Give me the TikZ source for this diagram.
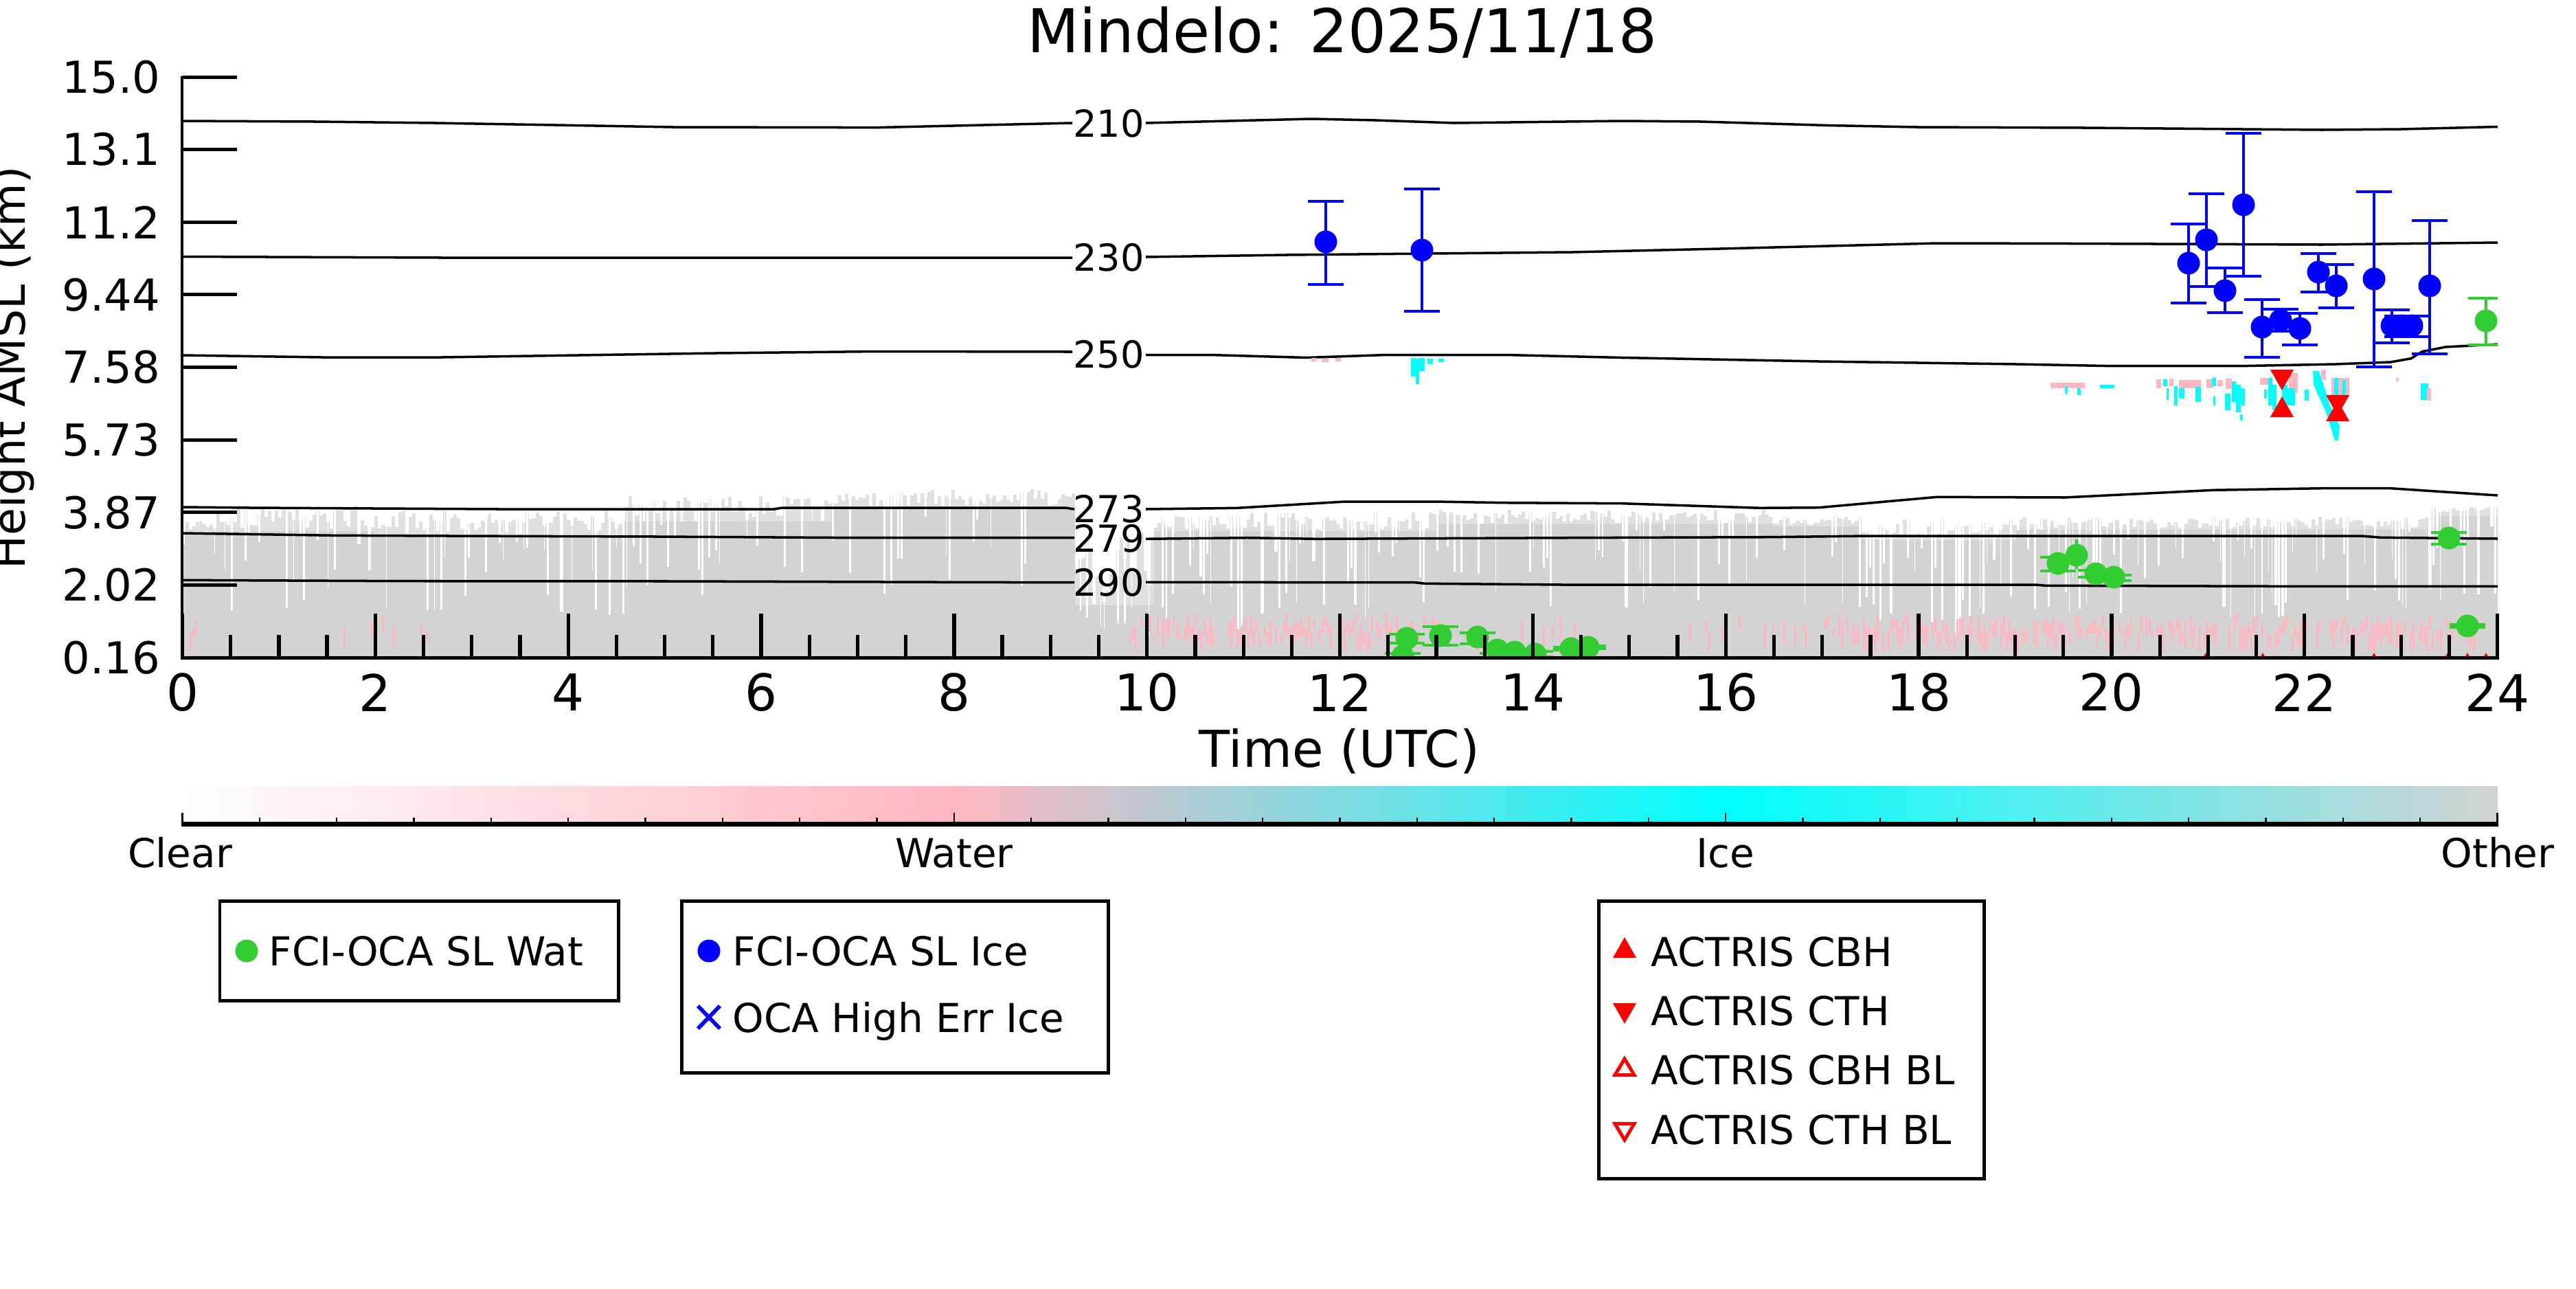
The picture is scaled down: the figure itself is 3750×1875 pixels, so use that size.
\documentclass[tikz,border=0pt]{standalone}
\usepackage{fontspec}
\setmainfont{DejaVu Sans}
\definecolor{cgray}{HTML}{D3D3D3}
\definecolor{cpink}{HTML}{FFB6C1}
\definecolor{ccyan}{HTML}{00FFFF}
\definecolor{cgreen}{HTML}{32CD32}
\definecolor{cblue}{HTML}{0000FF}
\definecolor{cred}{HTML}{FF0000}
\colorlet{cfringe}{cgray!70!white}
\tikzset{
 axisln/.style={line width=1.42pt},
 ytk/.style={line width=1.42pt},
 xtk/.style={line width=1.5pt},
 cbtk/.style={line width=0.7pt},
 cont/.style={line width=1pt, line join=round},
 ebar/.style={line width=1pt},
 ecap/.style={line width=1.05pt},
 legbox/.style={line width=1.42pt},
 clab/.style={font=\fontsize{15.4pt}{16pt}\selectfont, inner sep=0pt},
 ylab/.style={font=\fontsize{18.2pt}{20pt}\selectfont, inner sep=0pt},
 xlab/.style={font=\fontsize{21pt}{23pt}\selectfont, inner sep=0pt},
 legtxt/.style={font=\fontsize{16.5pt}{18pt}\selectfont, inner sep=0pt, anchor=base west},
}
\newcommand\cloudseg[6]{%
  \fill[cgray] (#1,#4) rectangle (#2,957);
  \pgfmathtruncatemacro\ncols{(#2-#1)/5-1}%
  \foreach \i in {0,...,\ncols}{%
    \pgfmathsetmacro\xx{#1+5*\i}%
    \pgfmathsetmacro\ra{rnd}%
    \pgfmathsetmacro\rb{rnd}%
    \pgfmathsetmacro\rc{rnd}%
    \pgfmathsetmacro\rd{rnd}%
    \pgfmathsetmacro\ytop{#3+(#4-#3)*\ra}%
    \fill[cfringe] (\xx,\ytop) rectangle (\xx+5,#4+1);
    \ifdim\rb pt<#5pt
      \pgfmathsetmacro\ybot{#4+(#6-#4)*\rc}%
      \pgfmathsetmacro\ww{1.2+3*\rd}%
      \fill[white] (\xx+2.5-\ww/2,#3-15) rectangle (\xx+2.5+\ww/2,\ybot);
    \fi
  }%
}
\newcommand\pinkseg[3]{%
  \pgfmathtruncatemacro\npk{(#2-#1)/4}%
  \foreach \i in {0,...,\npk}{%
    \pgfmathsetmacro\ra{rnd}%
    \pgfmathsetmacro\rb{rnd}%
    \pgfmathsetmacro\rc{rnd}%
    \ifdim\ra pt<#3pt
      \pgfmathsetmacro\xx{#1+4*\i}%
      \pgfmathsetmacro\yt{893+30*\rb}%
      \pgfmathsetmacro\yb{min(\yt+12+30*\rc,948)}%
      \fill[cpink] (\xx,\yt) rectangle (\xx+3.2,\yb);
    \fi
  }%
}
\newcommand\ice[4]{\fill[ccyan] (#1,#3) rectangle (#2,#4);}
\newcommand\pk[4]{\fill[cpink] (#1,#3) rectangle (#2,#4);}
\newcommand\triU[3]{\fill[#3] (#1-17,#2+15) -- (#1+17,#2+15) -- (#1,#2-15) -- cycle;}
\newcommand\triD[3]{\fill[#3] (#1-17,#2-15) -- (#1+17,#2-15) -- (#1,#2+15) -- cycle;}
\begin{document}
\begin{tikzpicture}[x=0.01cm,y=-0.01cm]
\useasboundingbox (0,0) rectangle (3750,1875);
\pgfmathsetseed{7}
\begin{scope}
\clip (265,100) rectangle (3636,957);
% cloud mask
\cloudseg{265}{310}{758}{777}{0.15}{880}
\cloudseg{310}{545}{735}{772}{0.3}{900}
\cloudseg{545}{910}{742}{778}{0.35}{900}
\cloudseg{910}{1210}{720}{758}{0.25}{880}
\cloudseg{1210}{1565}{712}{738}{0.2}{870}
\cloudseg{1565}{1680}{770}{880}{0.55}{930}
\cloudseg{1680}{1810}{750}{772}{0.6}{925}
\cloudseg{1810}{2090}{745}{772}{0.45}{900}
\cloudseg{2090}{2580}{742}{762}{0.35}{890}
\cloudseg{2580}{2710}{748}{765}{0.3}{890}
\cloudseg{2710}{2935}{755}{785}{0.65}{940}
\cloudseg{2935}{3540}{752}{770}{0.45}{900}
\cloudseg{3540}{3640}{738}{750}{0.3}{880}
% water near ground
\pinkseg{268}{300}{0.2}
\pinkseg{500}{620}{0.25}
\pinkseg{1640}{2110}{0.65}
\pinkseg{2110}{2560}{0.1}
\pinkseg{2560}{2700}{0.2}
\pinkseg{2700}{3600}{0.7}
% isotherm contours
\draw[cont] (265,176) -- (459,177) -- (633,179) -- (867,183) -- (980,185) -- (1276,185.6) -- (1561,179);
\draw[cont] (1668,179) -- (1909,173) -- (2002,175) -- (2117,179) -- (2361,176) -- (2476,177) -- (2662,182.5) -- (2791,185) -- (3035,186) -- (3150,187) -- (3380,189) -- (3495,188) -- (3636,184.5);
\draw[cont] (265,373.5) -- (643,375) -- (1561,375);
\draw[cont] (1668,374) -- (1873,371) -- (2289,367) -- (2504,362) -- (2820,354) -- (2992,354.4) -- (3380,356) -- (3636,353);
\draw[cont] (265,517) -- (469,520) -- (643,520) -- (1041,514) -- (1276,511.5) -- (1561,512);
\draw[cont] (1668,516.6) -- (1765,516.6) -- (1902,520.5) -- (2015,516.6) -- (2197,516.6) -- (2361,520.5) -- (2648,526) -- (2935,530) -- (3075,532.7) -- (3261,532.7) -- (3400,530) -- (3480,527) -- (3510,521.7) -- (3526,511.7) -- (3560,505) -- (3636,501);
\draw[cont] (265,738) -- (364,739) -- (545,740) -- (727,741) -- (1127,741) -- (1139,739) -- (1551,739) -- (1564,741);
\draw[cont] (1668,741) -- (1801,739.3) -- (1959,730) -- (2088,730) -- (2189,731.7) -- (2361,732.7) -- (2562,739.3) -- (2648,738.7) -- (2820,723.3) -- (3006,724) -- (3222,713.3) -- (3380,710.7) -- (3480,710.7) -- (3636,721);
\draw[cont] (265,776) -- (485,779.3) -- (655,780) -- (958,781) -- (1248,782.7) -- (1564,782.7);
\draw[cont] (1668,784.3) -- (1816,782.7) -- (1916,784.3) -- (2289,782.7) -- (2576,781.7) -- (2719,780) -- (3437,780) -- (3466,782.3) -- (3636,784);
\draw[cont] (265,844.3) -- (582,845.7) -- (982,846) -- (1382,847.3) -- (1564,847.7);
\draw[cont] (1668,847.3) -- (2060,847.7) -- (2074,849.3) -- (2275,851) -- (2963,851) -- (2978,852.3) -- (3322,853.3) -- (3636,853.3);
% ice / water pixels aloft
\pk{1909}{1917}{521}{526} \pk{1924}{1934}{522}{527} \pk{1944}{1952}{521}{526}
\ice{2054}{2061}{521}{548} \ice{2061}{2066}{522}{559} \ice{2066}{2074}{521}{540} \ice{2078}{2086}{522}{530} \ice{2094}{2102}{522}{527}
\pk{2985}{3035}{557}{565}
\ice{3006}{3010}{562}{573} \ice{3024}{3029}{565}{575}
\ice{3057}{3078}{560}{565}
\pk{3139}{3146}{552}{565} \pk{3158}{3164}{551}{562} \pk{3172}{3204}{553}{565}
\ice{3149}{3155}{552}{562} \ice{3154}{3157}{565}{582} \ice{3165}{3170}{562}{590} \ice{3172}{3180}{565}{580} \ice{3196}{3204}{563}{585}
\pk{3212}{3222}{552}{565} \pk{3228}{3236}{553}{562} \pk{3240}{3249}{551}{566}
\ice{3220}{3226}{550}{562} \ice{3222}{3225}{577}{590} \ice{3239}{3247}{573}{597} \ice{3249}{3255}{555}{585} \ice{3255}{3262}{560}{600} \ice{3262}{3268}{565}{590} \ice{3261}{3265}{603}{612}
\pk{3290}{3302}{550}{560} \pk{3332}{3345}{543}{572}
\ice{3302}{3308}{550}{590} \ice{3308}{3314}{560}{597} \ice{3296}{3300}{567}{580} \ice{3322}{3330}{560}{597} \ice{3330}{3341}{565}{590}
\fill[ccyan] (3367,540) -- (3376,540) -- (3392,590) -- (3406,620) -- (3404,641) -- (3399,641) -- (3386,600) -- (3368,560) -- cycle;
\ice{3355}{3361}{567}{583}
\pk{3394}{3420}{550}{577} \ice{3398}{3404}{550}{580} \ice{3410}{3415}{553}{575}
\pk{3379}{3386}{538}{553}
\pk{3488}{3492}{550}{555}
\ice{3524}{3535}{558}{582} \pk{3533}{3539}{565}{583}
% ACTRIS cloud base / top
\triD{3322}{553}{cred} \triU{3322}{592}{cred}
\triD{3403}{590}{cred} \triU{3403}{598}{cred}
\foreach \tx in {3211,3294,3456,3563,3592,3619} {\triU{\tx}{965}{cred}}
% FCI-OCA ice
\foreach \px/\py/\ptop/\pbot in {1930/352/293/414, 2070/364/275/453, 3186/383/326/441, 3212/349/282/417, 3239/423/390/455, 3266/298/194/402, 3293/476/436/520, 3320/466/450/482, 3348/478/456/502, 3375/396/369/425, 3401/416/385/448, 3456/406/279/534, 3482/474/451/499, 3497/474/460/490, 3511/474/460/490, 3537/416/321/515}
 {\draw[ebar,cblue] (\px,\ptop) -- (\px,\pbot);
  \draw[ecap,cblue] (\px-26,\ptop) -- (\px+26,\ptop) (\px-26,\pbot) -- (\px+26,\pbot);}
\foreach \px/\py/\ptop/\pbot in {1930/352/293/414, 2070/364/275/453, 3186/383/326/441, 3212/349/282/417, 3239/423/390/455, 3266/298/194/402, 3293/476/436/520, 3320/466/450/482, 3348/478/456/502, 3375/396/369/425, 3401/416/385/448, 3456/406/279/534, 3482/474/451/499, 3497/474/460/490, 3511/474/460/490, 3537/416/321/515}
 {\fill[cblue] (\px,\py) circle[radius=16.5];}
% FCI-OCA water
\draw[ebar,cgreen] (3023,785) -- (3023,828);
\foreach \px/\py/\ptop/\pbot in {2042/955/951/959, 2048/929/923/936, 2097/925/912/939, 2151/927/921/937, 2180/946/941/951, 2205/949/945/953, 2235/952/948/956, 2287/944/942/946, 2312/942/940/944, 2996/820/811/831, 3051/835/830/840, 3077/840/837/845, 3565/783/775/792, 3592/911/909/913, 3619/467/434/502}
 {\draw[ebar,cgreen] (\px,\ptop) -- (\px,\pbot);
  \draw[ecap,cgreen] (\px-26,\ptop) -- (\px+26,\ptop) (\px-26,\pbot) -- (\px+26,\pbot);}
\foreach \px/\py in {2042/955, 2048/929, 2097/925, 2151/927, 2180/946, 2205/949, 2235/952, 2287/944, 2312/942, 2996/820, 3023/808, 3051/835, 3077/840, 3565/783, 3592/911, 3619/467}
 {\fill[cgreen] (\px,\py) circle[radius=16.5];}
\end{scope}
% contour labels
\node[clab] (c210) at (1614,180) {210};
\node[clab] (c230) at (1614,375) {230};
\node[clab] (c250) at (1614,516) {250};
\node[clab] (c273) at (1614,741) {273};
\node[clab] (c279) at (1614,784) {279};
\node[clab] (c290) at (1614,848) {290};
% axes
\draw[axisln] (265,111) -- (265,959);
\draw[axisln] (263,957) -- (3638,957);
\foreach \lab [count=\k from 0] in {0.16,2.02,3.87,5.73,7.58,9.44,11.2,13.1,15.0} {
  \pgfmathsetmacro\yy{957-105.625*\k}
  \draw[ytk] (265,\yy) -- (345,\yy);
  \node[ylab, anchor=east] (yl\k) at (234,\yy) {\lab};
}
\foreach \k in {1,...,47} {
  \pgfmathsetmacro\xx{265.5+70.21*\k}
  \draw[xtk] (\xx,957) -- (\xx,924);
}
\foreach \t in {0,2,...,24} {
  \pgfmathsetmacro\xx{265.5+140.42*\t}
  \draw[xtk] (\xx,957) -- (\xx,893);
  \node[xlab] (xl\t) at (\xx,1008) {\t};
}
\node[font=\fontsize{25pt}{28pt}\selectfont, anchor=base, inner sep=0pt] (title) at (1954,76) {Mindelo: 2025/11/18};
\node[xlab, anchor=base] (xlabel) at (1950,1116) {Time (UTC)};
\node[font=\fontsize{18.5pt}{20pt}\selectfont, rotate=90, anchor=base, inner sep=0pt] (ylabel) at (36,535) {Height AMSL (km)};
% colour bar
\shade[left color=white, right color=cpink] (265,1144) rectangle (1390.5,1197);
\shade[left color=cpink, right color=ccyan] (1390,1144) rectangle (2512,1197);
\shade[left color=ccyan, right color=cgray] (2511.5,1144) rectangle (3636,1197);
\fill (264,1196) rectangle (3637,1203);
\foreach \k in {0,...,30} {
  \pgfmathsetmacro\xx{265.5+112.33*\k}
  \draw[cbtk] (\xx,1197) -- (\xx,1190);
}
\foreach \k in {0,...,3} {
  \pgfmathsetmacro\xx{265.5+1123.3*\k}
  \draw[cbtk] (\xx,1197) -- (\xx,1183);
}
\node[legtxt, anchor=base] (cb0) at (262,1262) {Clear};
\node[legtxt, anchor=base] (cb1) at (1389,1262) {Water};
\node[legtxt, anchor=base] (cb2) at (2512,1262) {Ice};
\node[legtxt, anchor=base] (cb3) at (3636,1262) {Other};
% legends
\draw[legbox] (320,1311) rectangle (900,1456);
\draw[legbox] (992,1311) rectangle (1613,1561);
\draw[legbox] (2327,1311) rectangle (2888,1715);
\fill[cgreen] (359,1384) circle[radius=16.5];
\node[legtxt] (l1) at (391,1405) {FCI-OCA SL Wat};
\fill[cblue] (1032,1384) circle[radius=16.5];
\node[legtxt] (l2) at (1066,1405) {FCI-OCA SL Ice};
\draw[cblue, line width=1.6pt] (1016,1464) -- (1048,1497) (1016,1497) -- (1048,1464);
\node[legtxt] (l3) at (1066,1502) {OCA High Err Ice};
\triU{2365}{1379}{cred}
\node[legtxt] (l4) at (2403,1406) {ACTRIS CBH};
\triD{2365}{1475}{cred}
\node[legtxt] (l5) at (2403,1492) {ACTRIS CTH};
\draw[cred, line width=1.4pt] (2351,1564.5) -- (2379,1564.5) -- (2365,1541) -- cycle;
\node[legtxt] (l6) at (2403,1578) {ACTRIS CBH BL};
\draw[cred, line width=1.4pt] (2351,1635.5) -- (2379,1635.5) -- (2365,1659) -- cycle;
\node[legtxt] (l7) at (2403,1665) {ACTRIS CTH BL};
\end{tikzpicture}
\end{document}
